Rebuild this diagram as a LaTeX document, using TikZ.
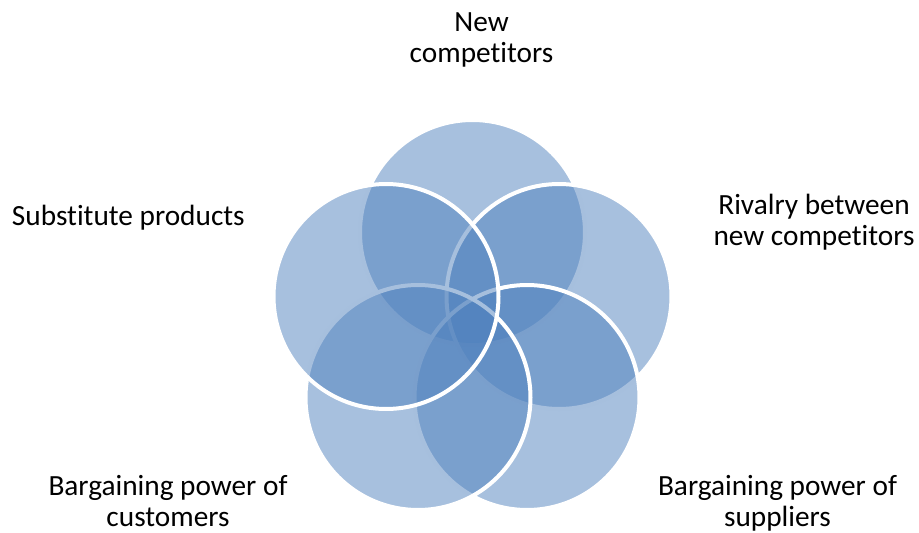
\documentclass[tikz,border=0pt]{standalone}
\usepackage{fontspec}
\setmainfont{Carlito}[Ligatures={NoCommon,NoContextual}, RawFeature={-liga;-clig;-calt}]
\usetikzlibrary{positioning}
\definecolor{forceColor}{HTML}{4F81BD}
\tikzset{
	force/.style={circle, draw=white, line width=4pt, fill=forceColor,
		fill opacity=0.5, draw opacity=1, minimum size=225pt, inner sep=0,
		outer sep=0},
	lab/.style={align=center, inner sep=0, outer sep=0,
		font=\fontsize{29.3}{31}\selectfont}
}

\begin{document}
\begin{tikzpicture}[x=1pt, y=-1pt]
	\useasboundingbox (0,0) rectangle (919,533);
	% the five forces, drawn clockwise from the top
	\node[force] (fnew) at (472.5, 232.5) {};
	\node[force] (frival) at (559, 296.5) {};
	\node[force] (fsupp) at (527, 397.5) {};
	\node[force] (fcust) at (418, 397.5) {};
	\node[force] (fsubst) at (386, 296.5) {};
	
	\node[lab, anchor=north] (lnew) at (481.5, 12.5) {New\\competitors};
	\node[lab, anchor=north] (lrival) at (814, 194) {Rivalry between\\new competitors};
	\node[lab, anchor=base west] (lsubst) at (12, 225) {Substitute products};
	\node[lab, anchor=north] (lcust) at (168, 475.5) {Bargaining power of\\customers};
	\node[lab, anchor=north] (lsupp) at (777.5, 475.5) {Bargaining power of\\suppliers};
\end{tikzpicture}
\end{document}
